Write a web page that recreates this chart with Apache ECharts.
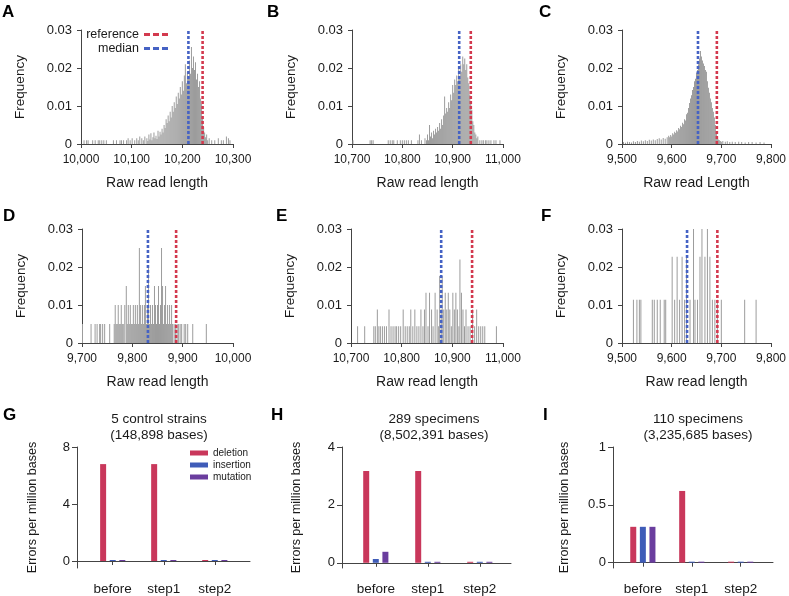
<!DOCTYPE html>
<html>
<head>
<meta charset="utf-8">
<script src="https://cdn.jsdelivr.net/npm/echarts@6/dist/echarts.min.js"></script>
<style>
  html, body { margin: 0; background: #fff; }
  #chart { width: 789px; height: 596px; }
</style>
</head>
<body>
<div id="chart"></div>
<script>
// ---------- data (frequencies in per mille, read lengths in bases) ----------
// A
const denseStartA = 10130;
const denseFreqA = [1.5,0.8,2.5,1.2,2.8,1.0,1.8,3.0,1.5,2.2,1.3,3.5,2.0,3.2,2.5,4.0,3.0,5.0,4.2,6.5,
  5.5,7.5,6.0,8.5,7.0,10.0,8.5,11.0,9.5,12.5,10.5,13.5,12.0,15.0,13.0,16.5,14.0,18.0,21.0,16.0,
  19.0,17.5,22.0,18.5,25.5,20.0,23.0,19.5,21.5,17.0,18.5,15.0,16.5,12.0,10.5,7.0,4.5,3.0,1.8,2.5,1.0];
const tailLenA = [10006,10011,10014,10023,10028,10034,10037,10041,10045,10050,10064,10070,10077,10080,10084,
  10090,10093,10097,10101,10106,10110,10113,10116,10120,10123,10126,10253,10258,10264,10271,10277,10281,10287,10291,10294];
const tailFreqA = [1,1,1,1,1,1,1,1,1,1,1,1,1,1,1,1,1.5,1,1.5,1,1.5,1,2,1.5,1,2,1.5,1,1,1.5,1,1,2,1.5,1];
// B
const denseStartB = 10850;
const denseFreqB = [2.5,1.0,5.0,2.0,3.0,1.5,3.5,2.5,4.0,3.0,4.5,3.5,5.5,4.0,6.5,5.0,7.5,12.5,8.0,9.5,
  8.5,11.0,9.5,13.0,11.5,15.5,13.5,17.0,15.5,18.0,16.5,20.0,17.5,21.0,19.0,23.0,21.0,22.5,19.5,21.0,
  17.5,16.0,13.0,11.0,9.0,6.0,5.0,3.0,2.5,1.5,2.0];
const tailLenB = [10702,10736,10739,10742,10772,10776,10780,10783,10790,10796,10800,10804,10808,10812,10818,
  10831,10834,10838,10845,10848,10954,10958,10961,10965,10968,10972,10976,10982,10986,10994];
const tailFreqB = [1,1,1,1,1,1,1,1,1,1,1,1,1,1,1,1,2.5,1,1.5,1,1,1,1,1,1,1,1,1,1,1];
// C
const denseStartC = 9596;
const denseFreqC = [1.8,2.4,2.0,2.8,2.5,3.2,2.9,3.6,3.3,4.2,3.9,4.8,4.5,5.6,5.2,6.5,6.2,7.8,8.2,9.5,
  10.8,12.0,12.8,14.2,15.0,16.5,17.2,18.8,19.5,21.0,22.5,24.5,23.0,22.0,21.2,20.5,19.5,19.0,16.5,14.8,
  13.5,12.0,11.0,9.5,8.5,7.0,5.0,3.0,1.8,1.2,1.0,0.8,0.6];
const tailLenC = [9503,9507,9511,9515,9519,9523,9527,9531,9535,9539,9543,9547,9551,9555,9559,9563,9567,9571,
  9575,9579,9583,9587,9591,9594,9703,9708,9712,9717,9722,9728,9735,9741,9748,9755,9762,9770,9778,9786];
const tailFreqC = [0.5,0.3,0.6,0.5,0.4,0.7,0.5,0.8,0.6,0.9,0.7,1.0,0.8,1.1,0.9,1.2,1.0,1.3,1.5,1.2,1.6,1.4,1.8,2.2,
  0.8,0.6,0.7,0.5,0.6,0.5,0.6,0.5,0.4,0.5,0.5,0.4,0.5,0.4];
// D
const lenD = [9701,9718,9726,9730,9735,9737,9741,9745,9755,9764,9766,9768,9770,9772,9774,9776,9778,9780,9782,9785,
  9788,9790,9792,9794,9796,9798,9800,9802,9804,9806,9808,9810,9812,9814,9816,9818,9820,9822,9824,9826,
  9828,9830,9832,9834,9836,9838,9840,9842,9844,9846,9848,9850,9852,9854,9856,9858,9860,9862,9864,9866,
  9868,9870,9872,9874,9876,9878,9880,9883,9886,9889,9892,9895,9898,9903,9906,9910,9920,9947];
const freqD = [5,5,5,5,5,5,5,5,5,5,10,5,5,10,5,5,10,5,5,10,
  15,5,10,5,10,5,5,10,5,10,5,10,5,25,10,5,10,5,10,15,
  5,10,20,5,10,5,10,5,15,10,5,10,15,5,10,25,15,5,10,15,
  5,10,5,10,5,10,5,5,5,5,5,5,5,5,5,5,5,5];
// E
const lenE = [10713,10727,10745,10748,10752,10755,10758,10762,10766,10770,10775,10779,10783,10787,10790,10794,10798,10803,10807,10811,
  10815,10818,10822,10826,10830,10834,10838,10842,10845,10848,10852,10855,10859,10862,10866,10870,10873,10875,10878,10880,
  10883,10886,10889,10892,10895,10898,10901,10904,10907,10910,10913,10915,10918,10921,10924,10927,10931,10935,10940,10944,
  10948,10952,10956,10960,10964,10987];
const freqE = [4.4,4.4,4.4,4.4,8.8,4.4,4.4,4.4,4.4,4.4,8.8,4.4,4.4,4.4,4.4,4.4,4.4,8.8,4.4,4.4,
  4.4,8.8,4.4,8.8,4.4,4.4,8.8,4.4,8.8,13.2,4.4,13.2,8.8,4.4,13.2,8.8,4.4,17.6,8.8,17.6,
  8.8,13.2,8.8,13.2,8.8,4.4,13.2,8.8,13.2,8.8,4.4,22.0,13.2,8.8,4.4,8.8,4.4,4.4,8.8,4.4,
  8.8,4.4,4.4,4.4,4.4,4.4];
// F
const lenF = [9523,9530,9535,9538,9561,9565,9571,9577,9585,9588,9601,9606,9611,9616,9621,9626,9630,9637,9644,9647,
  9652,9657,9661,9667,9672,9677,9682,9687,9692,9700,9747,9770];
const freqF = [11.4,11.4,11.4,11.4,11.4,11.4,11.4,11.4,11.4,11.4,22.7,11.4,22.7,11.4,22.7,11.4,22.7,11.4,34.1,11.4,
  11.4,22.7,34.1,22.7,34.1,22.7,11.4,11.4,11.4,11.4,11.4,11.4];

// medians and reference lengths
const medians = [10212, 10913, 9653, 9831, 10878, 9631];
const references = [10240, 10936, 9691, 9887, 10939, 9692];
const histRanges = [[10000,10300],[10700,11000],[9500,9800],[9700,10000],[10700,11000],[9500,9800]];
const histXNames = ['Raw read length','Raw read length','Raw read Length','Raw read length','Raw read length','Raw read length'];

// G-I error rates (errors per million bases)
const steps = ['before', 'step1', 'step2'];
const errorTypes = ['deletion', 'insertion', 'mutation'];
const deletionRates = [[6.8, 6.8, 0], [3.17, 3.17, 0], [0.31, 0.62, 0]];
const insertionRates = [[0, 0, 0], [0.13, 0, 0], [0.31, 0, 0]];
const mutationRates = [[0, 0, 0], [0.38, 0, 0], [0.31, 0, 0]];
const errTicks = [[0, 4, 8], [0, 2, 4], [0, 0.5, 1]];
const errTitles = ['5 control strains\n(148,898 bases)', '289 specimens\n(8,502,391 bases)', '110 specimens\n(3,235,685 bases)'];

// ---------- layout ----------
const FONT = '"Liberation Sans", Arial, Helvetica, sans-serif';
const AXIS = '#444';
const TEXT = '#1a1a1a';
const RED = '#d3394e';
const BLUE = '#4562c4';
const BAR_COLORS = ['#c9375b', '#3f5cb8', '#6a3d9e'];
const DASH_ICON = 'path://M0,0H6V3H0Z M9,0H15V3H9Z M18,0H24V3H18Z';

const grids = [
  { left: 81, top: 30, width: 152, height: 114 },
  { left: 352, top: 30, width: 151, height: 114 },
  { left: 622, top: 30, width: 151, height: 114 },
  { left: 82, top: 229, width: 151, height: 114 },
  { left: 351, top: 229, width: 152, height: 114 },
  { left: 622, top: 229, width: 151, height: 114 },
  { left: 77, top: 447, width: 173, height: 121 },
  { left: 342, top: 447, width: 169, height: 121 },
  { left: 613, top: 447, width: 160, height: 121 }
];
const errXRange = [[0.3, 3.69], [0.35, 3.6], [0.39, 3.66]];
const errYRange = [[-0.49, 8], [-0.18, 4], [-0.046, 1]];
const errNameGap = [38, 39, 42];

function pairs(lens, freqs) {
  return lens.map((x, i) => [x, freqs[i] / 1000]);
}
function densePairs(start, freqs) {
  return freqs.map((f, i) => [start + 2 * i, f / 1000]);
}

const histData = [
  densePairs(denseStartA, denseFreqA).concat(pairs(tailLenA, tailFreqA)),
  densePairs(denseStartB, denseFreqB).concat(pairs(tailLenB, tailFreqB)),
  densePairs(denseStartC, denseFreqC).concat(pairs(tailLenC, tailFreqC)),
  pairs(lenD, freqD),
  pairs(lenE, freqE),
  pairs(lenF, freqF)
];

const axisLine = { show: true, lineStyle: { color: AXIS, width: 1 } };
const xAxes = [], yAxes = [], series = [];

histData.forEach((data, i) => {
  xAxes.push({
    gridIndex: i, type: 'value', min: histRanges[i][0], max: histRanges[i][1], interval: 100,
    axisLine, axisTick: { length: 4, lineStyle: { color: AXIS } }, splitLine: { show: false },
    axisLabel: { margin: 10, fontSize: 12, color: TEXT, formatter: v => v.toLocaleString('en-US') },
    name: histXNames[i], nameLocation: 'middle', nameGap: 32,
    nameTextStyle: { fontSize: 14, color: TEXT }
  });
  yAxes.push({
    gridIndex: i, type: 'value', min: 0, max: 0.03, interval: 0.01,
    axisLine, axisTick: { show: true, length: 4, lineStyle: { color: AXIS } }, splitLine: { show: false },
    axisLabel: { margin: 9, fontSize: 13, color: TEXT },
    name: 'Frequency', nameLocation: 'middle', nameGap: 54,
    nameTextStyle: { fontSize: 13.5, color: TEXT }
  });
  series.push({
    type: 'bar', xAxisIndex: i, yAxisIndex: i, data, barWidth: 1, silent: true,
    itemStyle: { color: '#9c9c9c' }, z: 2
  });
  series.push({
    type: 'line', name: 'reference', xAxisIndex: i, yAxisIndex: i, symbol: 'none', silent: true, z: 4,
    data: [[references[i], 0], [references[i], 0.03]],
    itemStyle: { color: RED }, lineStyle: { color: RED, width: 2.6, type: [3, 2] }
  });
  series.push({
    type: 'line', name: 'median', xAxisIndex: i, yAxisIndex: i, symbol: 'none', silent: true, z: 4,
    data: [[medians[i], 0], [medians[i], 0.03]],
    itemStyle: { color: BLUE }, lineStyle: { color: BLUE, width: 2.6, type: [3, 2] }
  });
});

const rateSets = [deletionRates, insertionRates, mutationRates];
for (let k = 0; k < 3; k++) {
  const gi = 6 + k;
  xAxes.push({
    gridIndex: gi, type: 'value', min: errXRange[k][0], max: errXRange[k][1],
    axisLine, splitLine: { show: false },
    axisTick: { customValues: [1, 2, 3], length: 4, lineStyle: { color: AXIS } },
    axisLabel: { customValues: [1, 2, 3], margin: 14, fontSize: 13.5, color: TEXT,
      formatter: v => steps[Math.round(v) - 1] }
  });
  yAxes.push({
    gridIndex: gi, type: 'value', min: errYRange[k][0], max: errYRange[k][1],
    axisLine, splitLine: { show: false },
    axisTick: { customValues: errTicks[k], length: 5, lineStyle: { color: AXIS } },
    axisLabel: { customValues: errTicks[k], margin: 7, fontSize: 13, color: TEXT },
    name: 'Errors per million bases', nameLocation: 'middle', nameGap: errNameGap[k],
    nameTextStyle: { fontSize: 12.5, color: TEXT }
  });
  rateSets.forEach((rates, t) => {
    series.push({
      type: 'bar', name: errorTypes[t], xAxisIndex: 6 + k, yAxisIndex: 6 + k,
      data: rates[k].map((v, j) => [j + 1, v]),
      barWidth: 6, barGap: '60%', barMinHeight: 1, silent: true,
      itemStyle: { color: BAR_COLORS[t] }
    });
  });
}

// panel letters and G-I titles as text
const letterPos = [[2, 4], [267, 4], [539, 4], [3, 208], [276, 208], [541, 208], [3, 407], [271, 407], [543, 407]];
const graphic = 'ABCDEFGHI'.split('').map((ch, i) => ({
  type: 'text', x: letterPos[i][0], y: letterPos[i][1], silent: true,
  style: { text: ch, font: 'bold 17px ' + FONT, fill: '#000' }
}));
const titleX = [159, 434, 698];
errTitles.forEach((t, k) => {
  graphic.push({
    type: 'text', x: titleX[k], y: 427, silent: true,
    style: { text: t, font: '13.5px ' + FONT, fill: TEXT, align: 'center', verticalAlign: 'middle', lineHeight: 16 }
  });
});

const chart = echarts.init(document.getElementById('chart'));
chart.setOption({
  animation: false,
  backgroundColor: '#fff',
  textStyle: { fontFamily: FONT },
  grid: grids,
  xAxis: xAxes,
  yAxis: yAxes,
  legend: [
    { data: [{ name: 'reference', icon: DASH_ICON }], right: 789 - 173, top: 23, align: 'right',
      itemWidth: 24, itemHeight: 3, selectedMode: false, itemStyle: { color: RED },
      textStyle: { fontSize: 12.5, color: TEXT } },
    { data: [{ name: 'median', icon: DASH_ICON }], right: 789 - 173, top: 37, align: 'right',
      itemWidth: 24, itemHeight: 3, selectedMode: false, itemStyle: { color: BLUE },
      textStyle: { fontSize: 12.5, color: TEXT } },
    { data: errorTypes, left: 185, top: 443, orient: 'vertical', icon: 'rect', itemWidth: 18, itemHeight: 5,
      itemGap: 2, selectedMode: false, textStyle: { fontSize: 10, color: TEXT } }
  ],
  graphic,
  series
});
</script>
</body>
</html>
